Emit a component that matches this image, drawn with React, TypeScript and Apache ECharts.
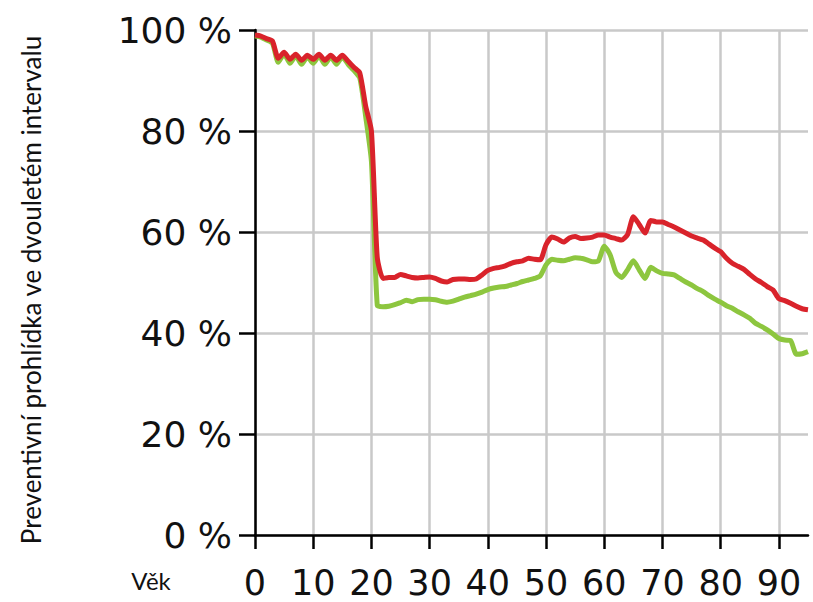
import React, { useEffect, useRef } from "react";
import * as echarts from "echarts";

// Age 0..95, one value per year (percent)
const redValues = [
  99.0, 98.8, 98.3, 97.8, 94.4, 95.6, 94.2, 95.2, 94.0, 95.0,
  94.2, 95.2, 94.0, 95.0, 94.0, 95.0, 93.8, 92.6, 91.5, 85.0,
  80.0, 55.0, 50.8, 51.0, 51.0, 51.6, 51.3, 51.0, 50.9, 51.0,
  51.1, 50.8, 50.3, 50.1, 50.6, 50.7, 50.7, 50.6, 50.7, 51.5,
  52.4, 52.8, 53.0, 53.3, 53.8, 54.1, 54.3, 54.8, 54.6, 54.5,
  57.5, 59.0, 58.6, 58.0, 58.8, 59.1, 58.7, 58.8, 59.0, 59.4,
  59.4, 59.0, 58.7, 58.4, 59.5, 63.0, 61.5, 59.8, 62.3, 62.0,
  62.0, 61.5, 61.0, 60.4, 59.8, 59.2, 58.8, 58.4, 57.6, 56.8,
  56.1, 54.8, 53.8, 53.2, 52.6, 51.6, 50.7, 50.0, 49.2, 48.5,
  46.8, 46.4, 45.9, 45.3, 44.8, 44.6,
];

const greenValues = [
  98.8, 98.6, 98.0, 97.4, 93.6, 95.3, 93.4, 94.9, 93.2, 94.7,
  93.4, 94.9, 93.2, 94.7, 93.2, 94.7, 93.2, 92.0, 90.5, 83.0,
  74.0, 45.5, 45.2, 45.3, 45.6, 46.0, 46.5, 46.2, 46.6, 46.7,
  46.7, 46.6, 46.3, 46.1, 46.3, 46.7, 47.1, 47.4, 47.7, 48.1,
  48.6, 48.9, 49.1, 49.2, 49.5, 49.8, 50.2, 50.5, 50.8, 51.3,
  53.5, 54.6, 54.4, 54.3, 54.6, 54.9, 54.8, 54.5, 54.1, 54.3,
  57.2, 55.5, 52.0, 51.0, 52.5, 54.3, 52.5, 50.8, 53.0, 52.3,
  51.8, 51.7, 51.5, 50.8, 50.1, 49.5, 48.8, 48.2, 47.4, 46.7,
  46.1, 45.4, 44.9, 44.2, 43.6, 42.9, 41.9, 41.3, 40.6, 39.8,
  38.9, 38.6, 38.5, 35.8, 35.9, 36.3,
];

const xTickValues = [0, 10, 20, 30, 40, 50, 60, 70, 80, 90];
const yAxisTitle = "Preventivní prohlídka ve dvouletém intervalu";
const xAxisTitle = "Věk";

export default function App() {
  const ref = useRef<HTMLDivElement>(null);

  useEffect(() => {
    if (!ref.current) return;
    const chart = echarts.init(ref.current, undefined, { renderer: "svg" });
    const toPairs = (arr: number[]) => arr.map((v, i) => [i, v]);
    chart.setOption({
      animation: false,
      backgroundColor: "#ffffff",
      grid: { left: 255, right: 5, top: 30, bottom: 67, containLabel: false },
      xAxis: {
        type: "value",
        min: 0,
        max: 95,
        interval: 10,
        axisLine: { show: true, onZero: false, lineStyle: { color: "#000", width: 2.5 } },
        axisTick: {
          show: true,
          length: 14,
          inside: false,
          customValues: xTickValues,
          lineStyle: { color: "#000", width: 2.5 },
        },
        axisLabel: {
          customValues: xTickValues,
          margin: 30,
          color: "#111",
          fontFamily: "DejaVu Sans",
          fontSize: 35,
        },
        splitLine: { show: true, lineStyle: { color: "#c9c9c9", width: 2.5 } },
      },
      yAxis: {
        type: "value",
        min: 0,
        max: 100,
        interval: 20,
        axisLine: { show: true, lineStyle: { color: "#000", width: 2.5 } },
        axisTick: { show: true, length: 16, inside: false, lineStyle: { color: "#000", width: 2.5 } },
        axisLabel: {
          formatter: "{value} %",
          margin: 23,
          color: "#111",
          fontFamily: "DejaVu Sans",
          fontSize: 36,
        },
        splitLine: { show: true, lineStyle: { color: "#c9c9c9", width: 2.5 } },
      },
      graphic: [
        {
          type: "text",
          x: 31,
          y: 290,
          rotation: Math.PI / 2,
          style: {
            text: yAxisTitle,
            fontFamily: "Lato",
            fontSize: 26,
            fill: "#111",
            align: "center",
            verticalAlign: "middle",
          },
        },
        {
          type: "text",
          x: 151,
          y: 580,
          style: {
            text: xAxisTitle,
            fontFamily: "Lato",
            fontSize: 24,
            fill: "#111",
            align: "center",
            verticalAlign: "middle",
          },
        },
      ],
      series: [
        {
          name: "green",
          type: "line",
          data: toPairs(greenValues),
          symbol: "none",
          smooth: 0.2,
          lineStyle: { color: "#8dc63f", width: 5 },
          z: 2,
        },
        {
          name: "red",
          type: "line",
          data: toPairs(redValues),
          symbol: "none",
          smooth: 0.2,
          lineStyle: { color: "#d9232b", width: 5 },
          z: 3,
        },
      ],
    });
    return () => chart.dispose();
  }, []);

  return (
    <div
      ref={ref}
      style={{ position: "fixed", left: 0, top: 0, width: 813, height: 602 }}
    />
  );
}
